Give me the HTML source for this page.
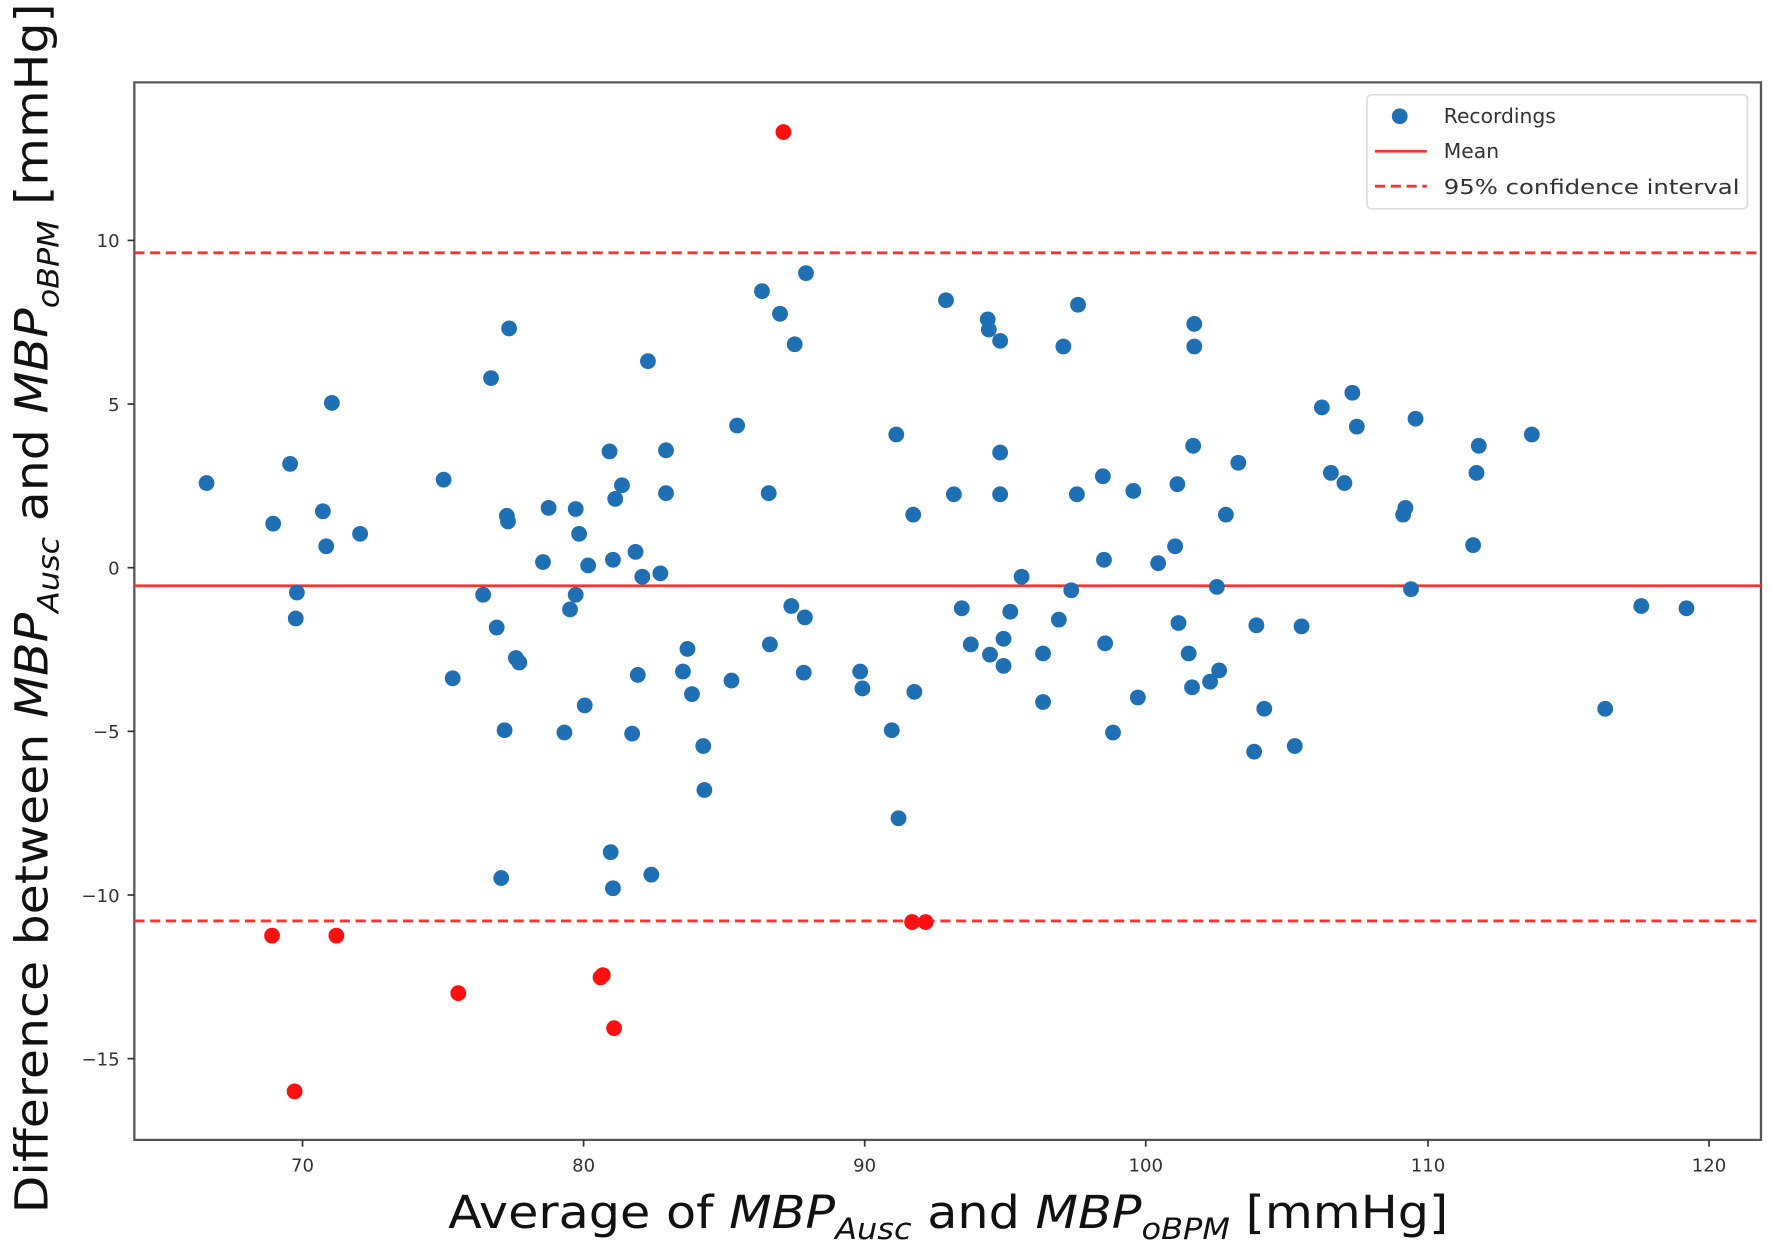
<!DOCTYPE html>
<html><head><meta charset="utf-8"><style>html,body{margin:0;padding:0;background:#fff}svg{display:block}</style></head>
<body>
<svg width="1770" height="1246" viewBox="0 0 1568 1104" preserveAspectRatio="none" xmlns="http://www.w3.org/2000/svg" font-family="DejaVu Sans, Liberation Sans, sans-serif">
<rect x="0" y="0" width="1568" height="1104" fill="#fff"/>
<rect x="119" y="73" width="1441" height="937" fill="none" stroke="#555" stroke-width="2"/>
<line x1="119" y1="519" x2="1560" y2="519" stroke="#ff3030" stroke-width="2.5"/>
<line x1="119" y1="224" x2="1560" y2="224" stroke="#ff3030" stroke-width="2.5" stroke-dasharray="9,5"/>
<line x1="119" y1="816" x2="1560" y2="816" stroke="#ff3030" stroke-width="2.5" stroke-dasharray="9,5"/>
<g stroke="#333" stroke-width="1.5">
<line x1="268" y1="1010" x2="268" y2="1016"/><line x1="517" y1="1010" x2="517" y2="1016"/><line x1="766" y1="1010" x2="766" y2="1016"/><line x1="1015" y1="1010" x2="1015" y2="1016"/><line x1="1265" y1="1010" x2="1265" y2="1016"/><line x1="1514" y1="1010" x2="1514" y2="1016"/>
<line x1="113" y1="213" x2="119" y2="213"/><line x1="113" y1="358" x2="119" y2="358"/><line x1="113" y1="503" x2="119" y2="503"/><line x1="113" y1="648" x2="119" y2="648"/><line x1="113" y1="793" x2="119" y2="793"/><line x1="113" y1="938" x2="119" y2="938"/>
</g>
<g font-size="16" fill="#333" text-anchor="middle">
<text x="268" y="1038">70</text><text x="517" y="1038">80</text><text x="766" y="1038">90</text><text x="1015" y="1038">100</text><text x="1265" y="1038">110</text><text x="1514" y="1038">120</text>
</g>
<g font-size="16" fill="#333" text-anchor="end">
<text x="106" y="219">10</text><text x="106" y="364">5</text><text x="106" y="509">0</text><text x="106" y="654">−5</text><text x="106" y="799">−10</text><text x="106" y="944">−15</text>
</g>
<text x="397" y="1088" font-size="40" fill="#111" textLength="886" lengthAdjust="spacingAndGlyphs">Average of <tspan font-style="italic">MBP</tspan><tspan font-style="italic" font-size="26" dy="10">Ausc</tspan><tspan dy="-10"> and </tspan><tspan font-style="italic">MBP</tspan><tspan font-style="italic" font-size="26" dy="10">oBPM</tspan><tspan dy="-10"> [mmHg]</tspan></text>
<text transform="translate(42,1075) rotate(-90)" x="0" y="0" font-size="40" fill="#111" textLength="1072" lengthAdjust="spacingAndGlyphs">Difference between <tspan font-style="italic">MBP</tspan><tspan font-style="italic" font-size="26" dy="10">Ausc</tspan><tspan dy="-10"> and </tspan><tspan font-style="italic">MBP</tspan><tspan font-style="italic" font-size="26" dy="10">oBPM</tspan><tspan dy="-10"> [mmHg]</tspan></text>
<g fill="#1f6fb4">
<circle cx="183" cy="428" r="7"/><circle cx="242" cy="464" r="7"/><circle cx="257" cy="411" r="7"/><circle cx="286" cy="453" r="7"/><circle cx="289" cy="484" r="7"/><circle cx="263" cy="525" r="7"/><circle cx="262" cy="548" r="7"/><circle cx="294" cy="357" r="7"/><circle cx="319" cy="473" r="7"/><circle cx="393" cy="425" r="7"/><circle cx="401" cy="601" r="7"/><circle cx="428" cy="527" r="7"/><circle cx="435" cy="335" r="7"/><circle cx="440" cy="556" r="7"/><circle cx="447" cy="647" r="7"/><circle cx="449" cy="457" r="7"/><circle cx="450" cy="462" r="7"/><circle cx="451" cy="291" r="7"/><circle cx="457" cy="583" r="7"/><circle cx="460" cy="587" r="7"/><circle cx="444" cy="778" r="7"/><circle cx="481" cy="498" r="7"/><circle cx="486" cy="450" r="7"/><circle cx="500" cy="649" r="7"/><circle cx="505" cy="540" r="7"/><circle cx="510" cy="451" r="7"/><circle cx="510" cy="527" r="7"/><circle cx="513" cy="473" r="7"/><circle cx="518" cy="625" r="7"/><circle cx="521" cy="501" r="7"/><circle cx="540" cy="400" r="7"/><circle cx="543" cy="496" r="7"/><circle cx="545" cy="442" r="7"/><circle cx="551" cy="430" r="7"/><circle cx="541" cy="755" r="7"/><circle cx="543" cy="787" r="7"/><circle cx="560" cy="650" r="7"/><circle cx="563" cy="489" r="7"/><circle cx="565" cy="598" r="7"/><circle cx="569" cy="511" r="7"/><circle cx="574" cy="320" r="7"/><circle cx="585" cy="508" r="7"/><circle cx="590" cy="399" r="7"/><circle cx="590" cy="437" r="7"/><circle cx="577" cy="775" r="7"/><circle cx="605" cy="595" r="7"/><circle cx="609" cy="575" r="7"/><circle cx="613" cy="615" r="7"/><circle cx="623" cy="661" r="7"/><circle cx="624" cy="700" r="7"/><circle cx="648" cy="603" r="7"/><circle cx="653" cy="377" r="7"/><circle cx="675" cy="258" r="7"/><circle cx="681" cy="437" r="7"/><circle cx="682" cy="571" r="7"/><circle cx="691" cy="278" r="7"/><circle cx="701" cy="537" r="7"/><circle cx="704" cy="305" r="7"/><circle cx="713" cy="547" r="7"/><circle cx="712" cy="596" r="7"/><circle cx="714" cy="242" r="7"/><circle cx="762" cy="595" r="7"/><circle cx="764" cy="610" r="7"/><circle cx="790" cy="647" r="7"/><circle cx="794" cy="385" r="7"/><circle cx="796" cy="725" r="7"/><circle cx="809" cy="456" r="7"/><circle cx="810" cy="613" r="7"/><circle cx="838" cy="266" r="7"/><circle cx="845" cy="438" r="7"/><circle cx="852" cy="539" r="7"/><circle cx="860" cy="571" r="7"/><circle cx="875" cy="283" r="7"/><circle cx="876" cy="292" r="7"/><circle cx="877" cy="580" r="7"/><circle cx="886" cy="302" r="7"/><circle cx="886" cy="401" r="7"/><circle cx="886" cy="438" r="7"/><circle cx="889" cy="566" r="7"/><circle cx="889" cy="590" r="7"/><circle cx="895" cy="542" r="7"/><circle cx="905" cy="511" r="7"/><circle cx="924" cy="579" r="7"/><circle cx="924" cy="622" r="7"/><circle cx="938" cy="549" r="7"/><circle cx="942" cy="307" r="7"/><circle cx="949" cy="523" r="7"/><circle cx="954" cy="438" r="7"/><circle cx="955" cy="270" r="7"/><circle cx="977" cy="422" r="7"/><circle cx="978" cy="496" r="7"/><circle cx="979" cy="570" r="7"/><circle cx="986" cy="649" r="7"/><circle cx="1004" cy="435" r="7"/><circle cx="1008" cy="618" r="7"/><circle cx="1026" cy="499" r="7"/><circle cx="1041" cy="484" r="7"/><circle cx="1043" cy="429" r="7"/><circle cx="1044" cy="552" r="7"/><circle cx="1053" cy="579" r="7"/><circle cx="1056" cy="609" r="7"/><circle cx="1057" cy="395" r="7"/><circle cx="1058" cy="287" r="7"/><circle cx="1058" cy="307" r="7"/><circle cx="1072" cy="604" r="7"/><circle cx="1078" cy="520" r="7"/><circle cx="1080" cy="594" r="7"/><circle cx="1086" cy="456" r="7"/><circle cx="1097" cy="410" r="7"/><circle cx="1111" cy="666" r="7"/><circle cx="1113" cy="554" r="7"/><circle cx="1120" cy="628" r="7"/><circle cx="1147" cy="661" r="7"/><circle cx="1153" cy="555" r="7"/><circle cx="1171" cy="361" r="7"/><circle cx="1179" cy="419" r="7"/><circle cx="1191" cy="428" r="7"/><circle cx="1198" cy="348" r="7"/><circle cx="1202" cy="378" r="7"/><circle cx="1243" cy="456" r="7"/><circle cx="1245" cy="450" r="7"/><circle cx="1250" cy="522" r="7"/><circle cx="1254" cy="371" r="7"/><circle cx="1305" cy="483" r="7"/><circle cx="1308" cy="419" r="7"/><circle cx="1310" cy="395" r="7"/><circle cx="1357" cy="385" r="7"/><circle cx="1422" cy="628" r="7"/><circle cx="1454" cy="537" r="7"/><circle cx="1494" cy="539" r="7"/>
</g>
<g fill="#ff1010">
<circle cx="694" cy="117" r="7"/><circle cx="241" cy="829" r="7"/><circle cx="298" cy="829" r="7"/><circle cx="406" cy="880" r="7"/><circle cx="532" cy="866" r="7"/><circle cx="534" cy="864" r="7"/><circle cx="544" cy="911" r="7"/><circle cx="261" cy="967" r="7"/><circle cx="808" cy="817" r="7"/><circle cx="820" cy="817" r="7"/>
</g>
<rect x="1211" y="84" width="337" height="101" rx="4" fill="#fff" fill-opacity="0.85" stroke="#ddd" stroke-width="1.5"/>
<circle cx="1240" cy="103" r="7" fill="#1f6fb4"/>
<line x1="1218" y1="134" x2="1264" y2="134" stroke="#ff3030" stroke-width="2.5"/>
<line x1="1218" y1="165" x2="1264" y2="165" stroke="#ff3030" stroke-width="2.5" stroke-dasharray="9,5"/>
<g font-size="18" fill="#333">
<text x="1279" y="109">Recordings</text><text x="1279" y="140">Mean</text><text x="1279" y="172" textLength="262" lengthAdjust="spacingAndGlyphs">95% confidence interval</text>
</g>
</svg>
</body></html>
